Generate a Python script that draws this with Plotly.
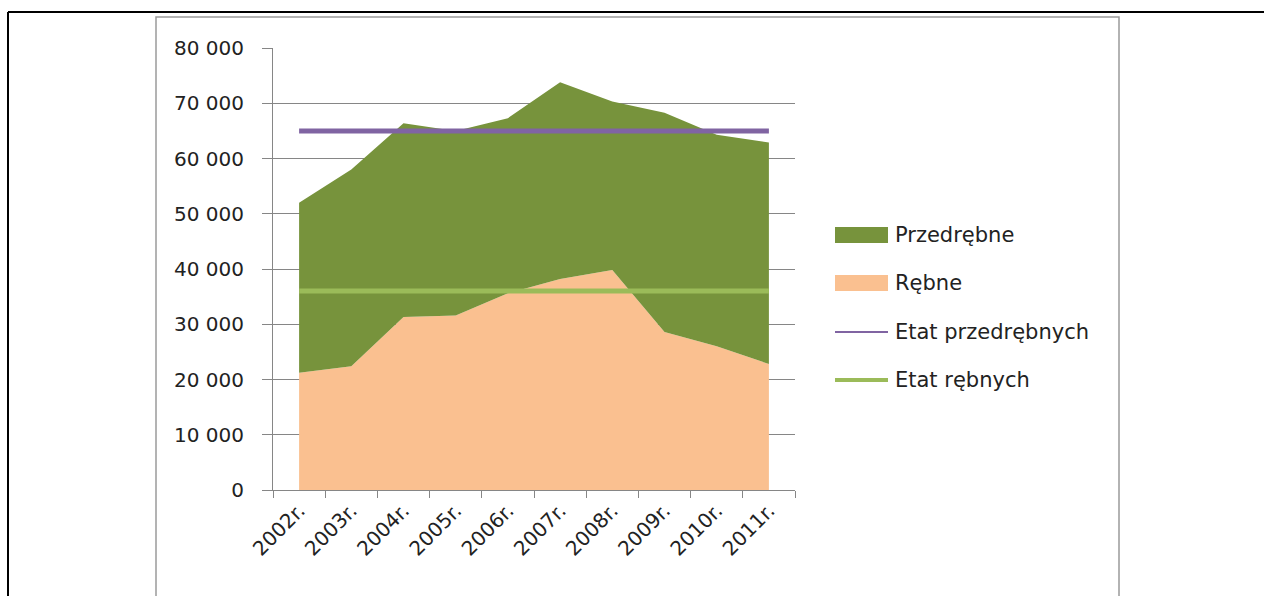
import plotly.graph_objects as go

# Harvest volumes by year (m3)
years = ["2002r.", "2003r.", "2004r.", "2005r.", "2006r.",
         "2007r.", "2008r.", "2009r.", "2010r.", "2011r."]
rebne = [21200, 22400, 31300, 31600, 35600, 38200, 39800, 28600, 26000, 22800]
przedrebne = [30800, 35600, 35100, 33400, 31700, 35600, 30500, 39700, 38300, 40100]
etat_przedrebnych = [65000] * 10
etat_rebnych = [36000] * 10

GREEN_AREA = "#77933C"
ORANGE_AREA = "#FAC090"
PURPLE = "#8064A2"
LIGHT_GREEN = "#9BBB59"
FONT = "DejaVu Sans"
TEXT = "#222222"

W, H = 1264, 596
PL, PR, PT, PB = 273, 795, 48, 490  # plot area in pixels


def px(x):
    return (x - PL) / (PR - PL)


def py(y):
    return (PB - y) / (PB - PT)


fig = go.Figure()
fig.add_trace(go.Scatter(x=years, y=rebne, name="Rębne", mode="none",
                         stackgroup="one", fillcolor=ORANGE_AREA))
fig.add_trace(go.Scatter(x=years, y=przedrebne, name="Przedrębne", mode="none",
                         stackgroup="one", fillcolor=GREEN_AREA))
fig.add_trace(go.Scatter(x=years, y=etat_przedrebnych, name="Etat przedrębnych",
                         mode="lines", line=dict(color=PURPLE, width=5)))
fig.add_trace(go.Scatter(x=years, y=etat_rebnych, name="Etat rębnych",
                         mode="lines", line=dict(color=LIGHT_GREEN, width=5)))

shapes = []
annotations = []

# page border lines and chart frame
shapes.append(dict(type="line", xref="paper", yref="paper",
                   x0=px(8), x1=px(1270), y0=py(12), y1=py(12),
                   line=dict(color="black", width=2)))
shapes.append(dict(type="line", xref="paper", yref="paper",
                   x0=px(8), x1=px(8), y0=py(12), y1=py(600),
                   line=dict(color="black", width=2)))
shapes.append(dict(type="rect", xref="paper", yref="paper",
                   x0=px(156), x1=px(1119), y0=py(605), y1=py(17),
                   line=dict(color="#9a9a9a", width=1.5), layer="below"))

# legend
legend_items = [
    ("Przedrębne", "rect", GREEN_AREA, 235),
    ("Rębne", "rect", ORANGE_AREA, 283),
    ("Etat przedrębnych", "line2", PURPLE, 332),
    ("Etat rębnych", "line4", LIGHT_GREEN, 380),
]
for label, kind, color, yc in legend_items:
    if kind == "rect":
        shapes.append(dict(type="rect", xref="paper", yref="paper",
                           x0=px(835), x1=px(888), y0=py(yc + 8), y1=py(yc - 8),
                           fillcolor=color, line=dict(width=0)))
    else:
        w = 2 if kind == "line2" else 4
        shapes.append(dict(type="line", xref="paper", yref="paper",
                           x0=px(835), x1=px(888), y0=py(yc), y1=py(yc),
                           line=dict(color=color, width=w)))
    annotations.append(dict(xref="paper", yref="paper", x=px(893), y=py(yc),
                            text=label, showarrow=False, xanchor="left",
                            yanchor="middle",
                            font=dict(family=FONT, size=21, color=TEXT)))

fig.update_layout(
    width=W, height=H,
    margin=dict(l=PL, r=W - PR, t=PT, b=H - PB, pad=0),
    paper_bgcolor="white", plot_bgcolor="white",
    separators=", ",
    showlegend=False,
    shapes=shapes,
    annotations=annotations,
    font=dict(family=FONT, size=20, color=TEXT),
    xaxis=dict(
        type="category", range=[-0.5, 9.5], tickangle=-45,
        tickson="boundaries", ticks="outside", ticklen=7, tickcolor="#868686",
        showline=True, linecolor="#868686", linewidth=1,
        showgrid=False, zeroline=False,
        tickfont=dict(family=FONT, size=20, color=TEXT),
    ),
    yaxis=dict(
        range=[0, 80000], dtick=10000, tickformat=",d",
        ticks="outside", ticklen=10, tickcolor="#868686",
        showline=True, linecolor="#868686", linewidth=1,
        showgrid=True, gridcolor="#868686", gridwidth=1,
        zeroline=False, ticklabelstandoff=14,
        tickfont=dict(family=FONT, size=20, color=TEXT),
    ),
)

fig.write_html("out.html")
